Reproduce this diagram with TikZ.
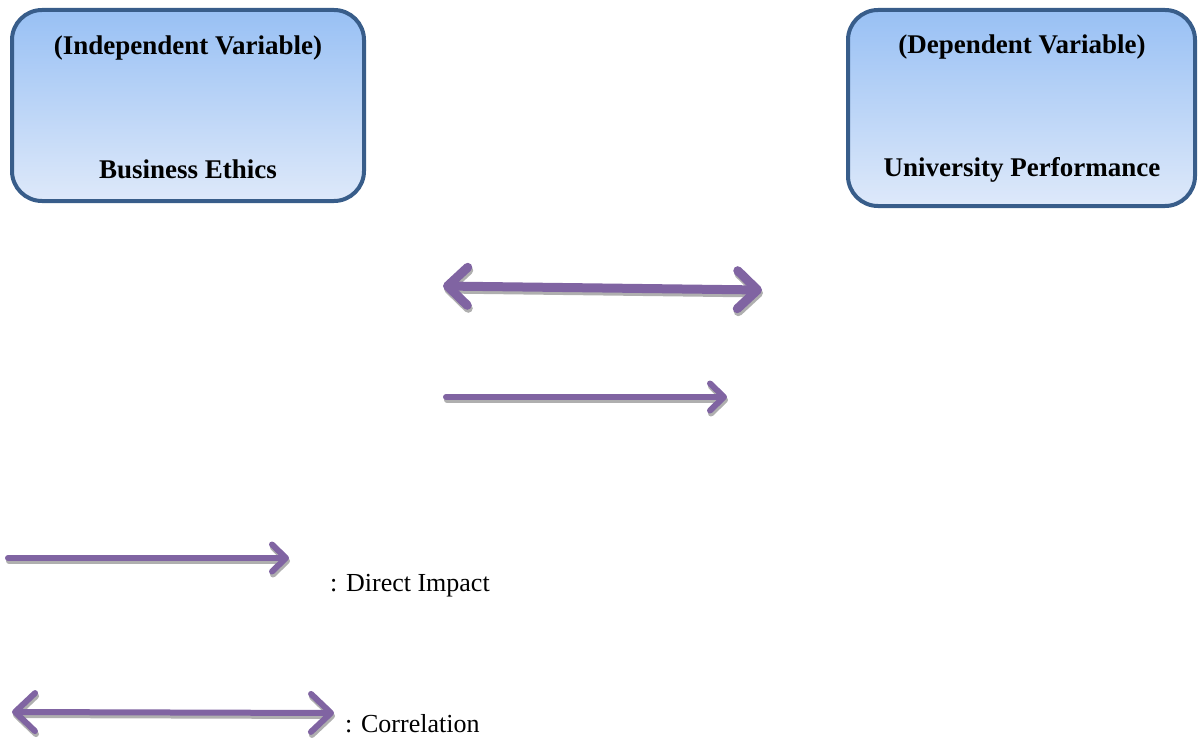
\documentclass[tikz,border=0pt]{standalone}
\usepackage{fontspec}
\setmainfont{Liberation Serif}
\usepackage{xcolor}
\usepackage{tikz}
\usetikzlibrary{arrows.meta,positioning}
\definecolor{boxborder}{RGB}{56,93,138}
\definecolor{boxtop}{RGB}{152,192,244}
\definecolor{boxbottom}{RGB}{222,233,250}
\definecolor{linkcolor}{RGB}{128,100,162}
\definecolor{shadowgray}{RGB}{175,175,175}
\tikzset{
  var box/.style={
    rectangle,
    rounded corners=30pt,
    draw=boxborder,
    line width=4pt,
    top color=boxtop,
    bottom color=boxbottom,
    inner sep=0pt
  },
  var text/.style={
    inner sep=0pt,
    font=\fontsize{27}{32}\selectfont\bfseries
  },
  legend text/.style={
    anchor=west,
    inner sep=0pt,
    font=\fontsize{26}{30}\selectfont
  },
  link/.style={
    draw=linkcolor,
    line cap=round
  },
  link shadow/.style={
    draw=shadowgray,
    transform canvas={shift={(1pt,-3pt)}}
  },
  impact/.style={
    link,
    line width=6pt,
    -{Straight Barb[length=14pt, width=27pt, round]}
  },
  correlation/.style={
    link,
    line width=9pt,
    {Straight Barb[length=20pt, width=38pt, round]}-{Straight Barb[length=20pt, width=38pt, round]}
  },
  legend correlation/.style={
    correlation,
    line width=6pt
  }
}

\begin{document}
\begin{tikzpicture}[x=1pt, y=-1pt]
  \useasboundingbox (0,0) rectangle (1198,738);

  % Variable boxes
  \node[var box, minimum width=352pt, minimum height=191pt] (ethics) at (188,105.5) {};
  \node[var box, minimum width=347pt, minimum height=196pt] (perf) at (1021.5,108) {};

  % Box texts
  \node[var text] (ethics title) at (188,48.5) {(Independent Variable)};
  \node[var text] (ethics name) at (188,169) {Business Ethics};
  \node[var text] (perf title) at (1022,47.5) {(Dependent Variable)};
  \node[var text] (perf name) at (1022,170) {University Performance};

  % Arrow end points
  \coordinate (corr a) at (443,286);
  \coordinate (corr b) at (762,290);
  \coordinate (imp a) at (446,397);
  \coordinate (imp b) at (727,397);
  \coordinate (leg imp a) at (8,558);
  \coordinate (leg imp b) at (289,558);
  \coordinate (leg corr a) at (12,712);
  \coordinate (leg corr b) at (334,713);

  % Arrows with their shadows
  \foreach \a/\b/\kind in {corr a/corr b/correlation, imp a/imp b/impact,
                           leg imp a/leg imp b/impact, leg corr a/leg corr b/legend correlation} {
    \draw[\kind, link shadow] (\a) -- (\b);
    \draw[\kind] (\a) -- (\b);
  }

  % Legend
  \node[legend text] (leg imp) at (330,586) {: Direct Impact};
  \node[legend text] (leg corr) at (345,724) {: Correlation};
\end{tikzpicture}
\end{document}
